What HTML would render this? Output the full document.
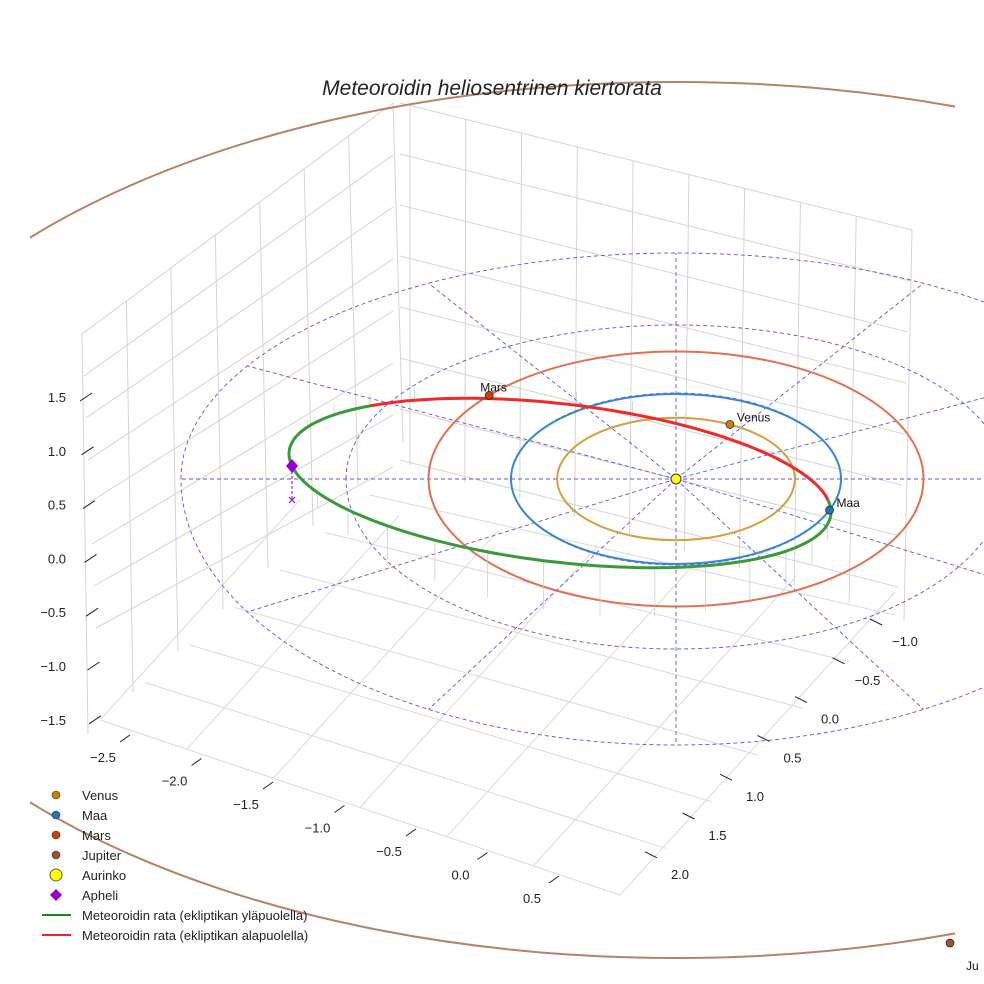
<!DOCTYPE html>
<html><head><meta charset="utf-8"><style>
body{margin:0;background:#fff;}
svg{display:block;font-family:"Liberation Sans",sans-serif;}
</style></head><body>
<svg id="chart" width="984" height="984" viewBox="0 0 984 984">
<defs><clipPath id="axclip"><rect x="30" y="0" width="925" height="984"/></clipPath></defs>
<g id="panes"></g>
<g id="orbits"></g>
<g id="marks"></g>
<g id="ticks"></g>
<text x="492" y="95" text-anchor="middle" font-size="21" font-style="italic" fill="#222">Meteoroidin heliosentrinen kiertorata</text>
<g id="legend"></g>
</svg>
<script>
const NS="http://www.w3.org/2000/svg";
const zTicks=["1.5","1.0","0.5","0.0","\u22120.5","\u22121.0","\u22121.5"];
const xTicks=["\u22122.5","\u22122.0","\u22121.5","\u22121.0","\u22120.5","0.0","0.5"];
const yTicks=["\u22121.0","\u22120.5","0.0","0.5","1.0","1.5","2.0"];
const planetNames=["Venus","Maa","Mars","Jupiter"];
const planetRadii=[0.72,1.0,1.5,5.2];
const planetAngles=[63,-21.5,139,-3];
const planetColors=["#c8800a","#1f77b4","#c8440a","#a0522d"];
const orbitColors=["#d4a040","#3a86d0","#e07050","#b8826a"];
const gridRadii=[1,2,3];
const gridTopRy=[86,154,226];
const gridBotRy=[86,170,266];
const meteorAxisA=[268,17];
const meteorAxisB=[-40,-83];
const meteorSplit=[126];
const legendLabels=["Venus","Maa","Mars","Jupiter","Aurinko","Apheli","Meteoroidin rata (ekliptikan yläpuolella)","Meteoroidin rata (ekliptikan alapuolella)"];
const SX=165,SY=85,CX=676,CY=479;
function px(r,deg){const a=deg*Math.PI/180;return [CX+SX*r*Math.cos(a),CY-SY*r*Math.sin(a)];}
function mk(p,tag,at){const e=document.createElementNS(NS,tag);for(const k in at)e.setAttribute(k,at[k]);p.appendChild(e);return e;}
const panes=document.getElementById('panes');
for(let i=0;i<8;i++){const t=i/7;const x1=82+(393-82)*t,y1=334+(103-334)*t;
 const l=mk(panes,'line',{x1:x1,y1:y1,x2:x1+6*(1-t)+10*t,y2:y1+400-60*t,stroke:'#d4d4d4','stroke-width':1});
 }
for(let j=0;j<8;j++){const d=j*52;
 const l=mk(panes,'line',{x1:82+j*2,y1:334+d*0.75+j*3,x2:393,y2:103+d,stroke:'#d4d4d4','stroke-width':1});
 }
for(let i=0;i<10;i++){const t=i/9;const x1=410+(912-410)*t,y1=105+(230-105)*t;
 const l=mk(panes,'line',{x1:x1,y1:y1,x2:x1-8*t,y2:y1+360+30*t,stroke:'#d4d4d4','stroke-width':1});
 }
for(let j=0;j<8;j++){const d=j*51;
 const l=mk(panes,'line',{x1:400,y1:103+d,x2:912-j*2,y2:230+d,stroke:'#d4d4d4','stroke-width':1});
 }
for(let i=0;i<7;i++){const t=i/6;
 const l=mk(panes,'line',{x1:100+(400-100)*t*0.9,y1:720-(720-470)*t*0.9,x2:620+(895-620)*t,y2:895-(895-615)*t,stroke:'#dadada','stroke-width':1});
 }
for(let i=0;i<7;i++){const t=i/6;
 const l=mk(panes,'line',{x1:100+(620-100)*t,y1:720+(895-720)*t,x2:300+(895-300)*t,y2:500+(615-500)*t*0.8,stroke:'#dadada','stroke-width':1});
 }
const orb=document.getElementById('orbits');
function gp3(i,deg){const a=deg*Math.PI/180,s=Math.sin(a);return [CX+SX*gridRadii[i]*Math.cos(a),CY-(s>0?gridTopRy[i]:gridBotRy[i])*s];}
gridRadii.forEach((r,i)=>{const rx=SX*r;
 const d=`M${CX-rx},${CY}A${rx},${gridTopRy[i]} 0 0 1 ${CX+rx},${CY}A${rx},${gridBotRy[i]} 0 0 1 ${CX-rx},${CY}`;
 const e=mk(orb,'path',{d:d,fill:'none',stroke:'#5555ee','stroke-width':0.9,'stroke-dasharray':'4 3'});
 });
for(let k=0;k<12;k++){const p=gp3(2,k*30);
 const l=mk(orb,'line',{x1:CX,y1:CY,x2:p[0],y2:p[1],stroke:'#5555ee','stroke-width':0.9,'stroke-dasharray':'4 3'});
 }
planetRadii.forEach((r,i)=>{const ry=i==3?438:SY*r,cy=i==3?520:CY,rx=i==3?845:SX*r;
 const e=mk(orb,'ellipse',{cx:CX,cy:cy,rx:rx,ry:ry,fill:'none',stroke:orbitColors[i],'stroke-width':2});
 if(i==3)e.setAttribute('clip-path','url(#axclip)');
 });
const MC=[560,483];
function mp(t){const a=t*Math.PI/180,c=Math.cos(a),s=Math.sin(a);return [MC[0]+meteorAxisA[0]*c+meteorAxisB[0]*s,MC[1]+meteorAxisA[1]*c+meteorAxisB[1]*s];}
let g="",rd="";
for(let t=meteorSplit[0];t<=360;t+=2){const p=mp(t);g+=(g?"L":"M")+p[0].toFixed(1)+","+p[1].toFixed(1);}
for(let t=0;t<=meteorSplit[0];t+=2){const p=mp(t);rd+=(rd?"L":"M")+p[0].toFixed(1)+","+p[1].toFixed(1);}
for(let t=6;t<360;t+=12){const p=mp(t);const s=Math.sin(t*Math.PI/180);
 const l=mk(orb,'line',{x1:p[0],y1:p[1],x2:p[0],y2:p[1]+(s>0?-14*s:50*(-s)),stroke:'#c8c8c8','stroke-width':0.7});
 }
const gpth=mk(orb,'path',{d:g,fill:'none',stroke:'#3a9a3a','stroke-width':3});

const rp=mk(orb,'path',{d:rd,fill:'none',stroke:'#ee2a2a','stroke-width':3});

const mg=document.getElementById('marks');
planetRadii.forEach((r,i)=>{let p;
 if(i==3)p=[950,943];else p=px(r,planetAngles[i]);
 const c=mk(mg,'circle',{cx:p[0],cy:p[1],r:4,fill:planetColors[i],stroke:'#222','stroke-width':0.7});
 
 const t=mk(mg,'text',{x:p[0]+(i==2?-9:(i==3?16:7)),y:p[1]+(i==2?-4:(i==3?27:-3)),'font-size':12,fill:'#111'});
 t.textContent=i==3?"Ju":planetNames[i];
 });
const sun=mk(mg,'circle',{cx:CX,cy:CY,r:5,fill:'#ffff00',stroke:'#333','stroke-width':1});

const ap=mp(180);
const al=mk(mg,'line',{x1:ap[0],y1:ap[1],x2:ap[0],y2:ap[1]+34,stroke:'#9400d3','stroke-width':1,'stroke-dasharray':'3 2'});

const ad=mk(mg,'path',{d:`M${ap[0]},${ap[1]-7}l6,7l-6,7l-6,-7z`,fill:'#9400d3'});

const ax=mk(mg,'text',{x:ap[0],y:ap[1]+39,'text-anchor':'middle','font-size':15,fill:'#9400d3'});ax.textContent="\u00d7";

const tg=document.getElementById('ticks');
zTicks.forEach((s,i)=>{const y=397+i*53.8;
 const t=mk(tg,'text',{x:66,y:y+5,'text-anchor':'end','font-size':13,fill:'#222'});t.textContent=s;
 
 const l=mk(tg,'line',{x1:80+i*1.5,y1:y+4,x2:92+i*1.5,y2:y-4,stroke:'#222'});
 });
xTicks.forEach((s,i)=>{const x=103+i*71.5,y=757+i*23.5;
 const t=mk(tg,'text',{x:x,y:y+5,'text-anchor':'middle','font-size':13,fill:'#222'});t.textContent=s;
 
 const l=mk(tg,'line',{x1:x+17,y1:y-15,x2:x+27,y2:y-22,stroke:'#222'});
 });
yTicks.forEach((s,i)=>{const x=905-i*37.5,y=641+i*38.8;
 const t=mk(tg,'text',{x:x,y:y+5,'text-anchor':'middle','font-size':13,fill:'#222'});t.textContent=s;
 
 const l=mk(tg,'line',{x1:x-35,y1:y-22,x2:x-23,y2:y-16,stroke:'#222'});
 });
const lg=document.getElementById('legend');
legendLabels.forEach((s,i)=>{const y=795+i*20;
 let m;
 if(i<4)m=mk(lg,'circle',{cx:56,cy:y,r:4,fill:planetColors[i],stroke:'#333','stroke-width':0.6});
 else if(i==4)m=mk(lg,'circle',{cx:56,cy:y,r:6,fill:'#ffff00',stroke:'#333','stroke-width':0.8});
 else if(i==5)m=mk(lg,'path',{d:`M56,${y-6}l6,6l-6,6l-6,-6z`,fill:'#9400d3'});
 else m=mk(lg,'line',{x1:42,y1:y,x2:71,y2:y,stroke:i==6?'#1e8a1e':'#ee2222','stroke-width':2});
 
 const t=mk(lg,'text',{x:82,y:y+5,'font-size':13,fill:'#222'});t.textContent=s;
 });
</script>
</body></html>
